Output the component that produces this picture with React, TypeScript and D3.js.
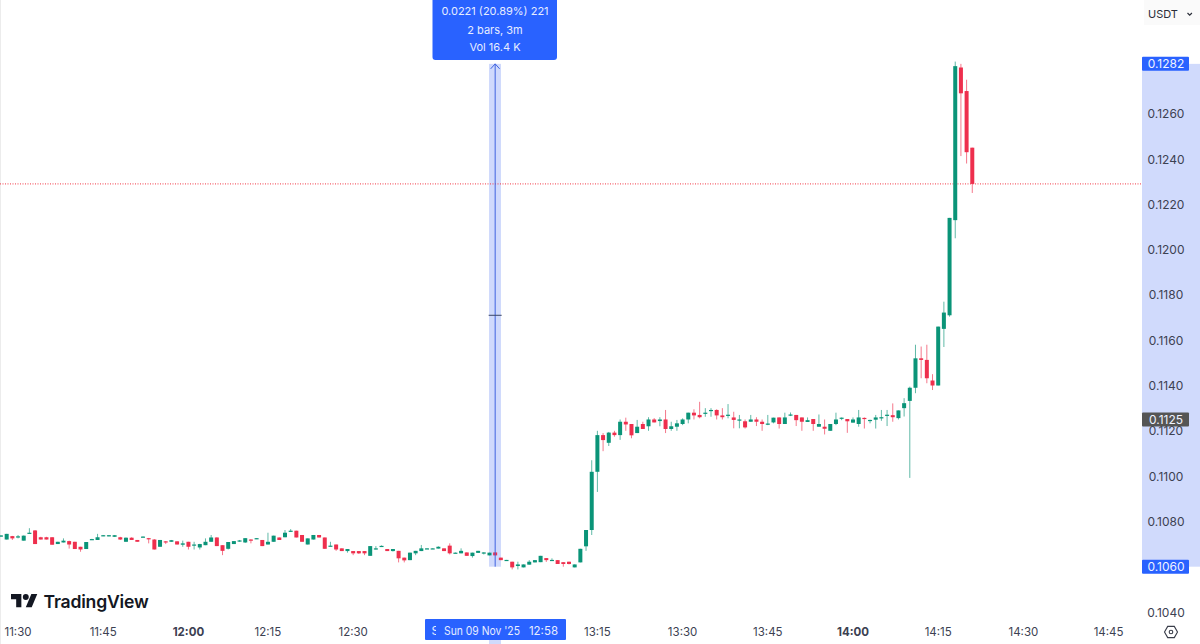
import React from "react";
import * as d3 from "d3";

type Row = [number, number, number, number];
// open, high, low, close, in units of 0.0001 USDT
const flatSession: Row[] = [
[1073.5,1073.9,1073.2,1073.8],[1072,1074.5,1072,1074.5],[1073.5,1073.6,1071.8,1072.5],[1073,1074,1072.5,1073.4],[1071.5,1073.8,1071.5,1073.7],
[1074.6,1077,1074.6,1075],[1076,1076.2,1070,1070],[1073,1073.2,1072,1072],[1073,1073.2,1072,1072],[1073,1073.1,1069.7,1069.7],
[1070,1071,1070,1071],[1070.7,1072.5,1070.7,1071.5],[1071.3,1071.5,1068,1069.8],[1071,1071,1067.8,1067.8],[1068.8,1068.8,1066.6,1067.6],
[1067.8,1070.9,1067.8,1070.9],[1072,1072.3,1071.9,1072.2],[1071.8,1074.5,1071.8,1073],[1073.6,1074,1073.5,1073.9],[1073.5,1074,1073.4,1073.9],
[1073.2,1074,1073.1,1073.9],[1073,1073.2,1071.8,1072],[1071,1072.9,1071,1072.8],[1072.8,1073,1071.8,1071.8],[1071.8,1071.8,1071,1071],
[1073.1,1073.4,1073,1073.3],[1072.6,1072.7,1070.3,1072.3],[1072,1072.2,1067.6,1067.6],[1068.8,1071.8,1068.8,1071.8],[1071.2,1071.3,1070,1070.8],
[1071,1071.8,1071,1071.7],[1071.2,1071.2,1069.8,1069.8],[1069.7,1071.5,1068.8,1070.3],[1071,1071,1067.6,1068.8],[1069.4,1071,1067.6,1069.8],
[1068.5,1070.1,1067.6,1070],[1069.5,1072.5,1069.5,1071],[1071,1074,1071,1072.9],[1072.9,1073,1069.1,1069.1],[1069.5,1069.5,1065.1,1067],
[1067.9,1070.9,1067.6,1070.9],[1070,1071.3,1070,1071.3],[1071.3,1071.8,1071,1071.6],[1070.7,1072.6,1070.5,1072.6],[1072,1072.2,1070.3,1071.8],
[1072.2,1072.6,1072.2,1072.6],[1071.8,1071.8,1069.1,1069.1],[1069.8,1075,1069.8,1071],[1071,1073.7,1071,1073.7],[1072.9,1072.9,1071.8,1071.8],
[1073,1076.2,1073,1075],[1075.5,1076.6,1075.5,1075.9],[1075.9,1075.9,1072.9,1072.9],
];
const driftSession: Row[] = [
[1074,1074,1071,1071],[1069.8,1072.5,1069.8,1072.5],[1072,1074,1072,1074],[1074,1074,1072.9,1072.9],[1072.9,1072.9,1067.9,1067.9],
[1069.1,1071,1069,1069.3],[1069.8,1069.8,1067,1067.6],[1068.1,1068.1,1066.9,1066.9],[1066.9,1067.8,1066.2,1067.8],[1066.9,1066.9,1065.1,1065.9],
[1066.9,1066.9,1065.6,1065.9],[1066.9,1066.9,1065.1,1065.9],[1064.8,1069.1,1064.8,1069.1],[1068,1069.1,1067.6,1068.1],[1069,1069.4,1069,1069.2],
[1067.8,1067.8,1066.9,1066.9],[1066.9,1067.8,1066.7,1067.8],[1067,1067,1061.9,1063.7],[1064,1064,1061.9,1062.8],[1062.9,1066.2,1062.9,1066.2],
[1065.9,1067,1065.1,1067],[1066.9,1069.6,1066.9,1068.1],[1067.9,1068.2,1067.9,1068.1],[1067.9,1068.2,1067.9,1068.1],[1068,1069,1068,1068.8],
[1068.1,1068.1,1066.9,1066.9],[1069.3,1070.3,1065.4,1065.9],[1066,1066.3,1066,1066.2],[1065.9,1068.1,1065.9,1067],[1066.3,1066.3,1064.8,1064.8],
[1064.7,1066.2,1064,1066.2],[1066.1,1067,1066.1,1067],[1066.2,1066.4,1065.4,1066.3],[1065,1066.2,1065,1066.2],[1066.3,1066.3,1065,1065],
[1064,1064,1062.9,1062.9],[1062.8,1063,1062.8,1063],[1062.2,1062.2,1058.8,1059.7],[1060.3,1062.2,1058.8,1061],[1059.7,1061,1059.7,1061],
[1060.9,1062.9,1060.9,1062.2],[1061.9,1062.9,1061.9,1062.9],[1062,1064.8,1062,1064.8],[1063.8,1063.8,1062.1,1062.9],[1062.8,1063.7,1062.8,1063],
[1062.9,1062.9,1061.2,1061.2],[1062,1062,1060,1061.2],[1062.2,1062.2,1061,1061.2],[1059.7,1061,1059.7,1061],[1061.9,1067.9,1061.9,1067.9],
[1069,1076.2,1067,1076.2],[1076.2,1107,1074,1101.9],
];
const plateauSession: Row[] = [
[1101.9,1120,1093,1118.1],[1118.1,1119,1111,1115.9],[1114.7,1119.5,1113.3,1119.2],[1119.2,1120,1117.4,1118.1],[1118.1,1125,1116,1124],
[1124,1125.8,1120,1122.8],[1123,1123,1116.7,1118],[1119,1124.8,1119,1121.8],[1123,1124,1120.8,1120.8],[1122,1126,1120,1125],
[1125,1125.6,1123.7,1123.7],[1124.3,1126,1122,1125],[1125,1129.2,1119,1120.8],[1120.8,1124,1120,1122],[1121.8,1124.8,1120,1123.3],
[1123,1125.5,1122.5,1125],[1125,1128,1123.3,1128],[1128,1129.5,1125,1126.8],[1127,1132.8,1125.5,1126],[1127.8,1130,1126.2,1128],
[1129,1130,1126.2,1129.2],[1129.2,1129.5,1125,1126.8],[1126.8,1130,1125,1126],[1126.9,1131.8,1125.5,1127.1],[1125.9,1128.4,1121.1,1124.8],
[1124.7,1127,1121.1,1125],[1124.2,1125,1121,1121.5],[1124,1127,1124,1125],[1125,1126,1122.1,1124],[1124,1125,1120,1123],
[1123,1127,1122.5,1123.2],[1123.7,1125.8,1123.3,1125.8],[1125.9,1125.9,1121,1123],[1123,1128,1123,1125.9],[1127.1,1128.1,1126.5,1127.2],
[1127,1127,1122.1,1124.7],[1125.9,1125.9,1120,1124],[1123.9,1125.9,1123.9,1124.7],[1125.2,1125.2,1120,1123],[1121.8,1127.2,1121.8,1123],
[1121.8,1125,1118.4,1120.9],[1120,1123,1120,1123],[1123,1128,1122.5,1125],[1125.6,1125.9,1124.7,1125.8],[1125.2,1125.2,1119.1,1124.2],
[1123.6,1125.9,1123.6,1125],[1123,1129.2,1121.8,1125.9],[1125.7,1125.9,1121,1125.4],[1124.5,1124.9,1123.3,1124.8],[1124.9,1127,1121,1125.9],
[1125.8,1129.2,1124.4,1126],[1126.9,1129.2,1122.1,1127.1],[1126.9,1132.1,1124,1126],[1125.6,1129,1125,1129],
];
const spikeSession: Row[] = [
[1130,1134.4,1126.3,1132.2],[1133.2,1139.5,1099.2,1139],[1139,1158,1136.6,1152],[1152,1157.2,1143.2,1151.3],[1151.3,1158,1141,1143.2],
[1142.2,1145,1138,1140],[1140,1166,1140,1166],[1165,1177,1157,1172.2],[1171,1214,1170.4,1214],[1213,1283,1205,1281],
[1280.4,1282,1241.3,1269],[1270,1275,1238,1243],[1245,1245,1225,1229],
];
const candles: Row[] = [...flatSession, ...driftSession, ...plateauSession, ...spikeSession];

const timeTicks: [number, string, boolean][] = [
  [3, "11:30", false], [18, "11:45", false], [33, "12:00", true], [47, "12:15", false], [62, "12:30", false],
  [105, "13:15", false], [120, "13:30", false], [135, "13:45", false], [150, "14:00", true], [165, "14:15", false],
  [180, "14:30", false], [195, "14:45", false],
];
const priceTicks = [1040, 1080, 1100, 1120, 1140, 1160, 1180, 1200, 1220, 1240, 1260];
const lastPrice = 1229;
const crosshairBar = 87;
const rulerFrom = 1060;
const rulerTo = 1282;
const hoverPrice = 1125;
const tooltipLines = ["0.0221 (20.89%) 221", "2 bars, 3m", "Vol 16.4 K"];

const FONT = "Inter, 'Liberation Sans', sans-serif";
const GREEN = "#0a9478";
const RED = "#ee2f4d";
const BLUE = "#2962ff";
const BAND = "#d0dafc";
const TEXT = "#3c4152";

const x = d3.scaleLinear().domain([0, 195]).range([1, 1108.6]);
const y = d3.scaleLinear().domain([1040, 1260]).range([612, 113.7]);
const fmt = (t: number) => (t / 10000).toFixed(4);

export default function App() {
  const cx = x(crosshairBar);
  const yTop = y(rulerTo);
  const yBot = y(rulerFrom);
  const yMid = (yTop + yBot) / 2;
  return (
    <svg width={1200} height={644} style={{ position: "fixed", left: 0, top: 0, background: "#fff" }} fontFamily={FONT}>
      <rect x={0} y={0} width={1} height={644} fill="#ececec" />
      {/* ruler band */}
      <rect x={489} y={yTop} width={12} height={yBot - yTop} fill={BAND} />
      <rect x={1142} y={yTop} width={58} height={yBot - yTop} fill={BAND} />
      <rect x={489} y={619} width={12} height={25} fill={BAND} />

      {/* last price line */}
      <line x1={0} x2={1142} y1={y(lastPrice)} y2={y(lastPrice)} stroke="#f23645" strokeWidth={1} strokeDasharray="1 1.5" />

      {/* candles */}
      {candles.map(([o, h, l, c], i) => {
        const col = c >= o ? GREEN : RED;
        const top = y(Math.max(o, c));
        const bot = y(Math.min(o, c));
        const px = x(i);
        return (
          <g key={i}>
            <line x1={px} x2={px} y1={y(h)} y2={y(l)} stroke={col} strokeOpacity={0.65} strokeWidth={1} />
            <rect x={px - 2} y={top} width={4} height={Math.max(bot - top, 1.2)} fill={col} />
          </g>
        );
      })}

      {/* ruler line and arrow */}
      <line x1={cx} x2={cx} y1={yTop} y2={yBot} stroke="#3f63e0" strokeWidth={1} />
      <path d={`M${cx - 4.5} ${yTop + 5}L${cx} ${yTop}L${cx + 4.5} ${yTop + 5}`} fill="none" stroke="#3f63e0" strokeWidth={1} />
      <line x1={cx - 6.5} x2={cx + 6.5} y1={yMid} y2={yMid} stroke="#3a4668" strokeWidth={1} />

      {/* tooltip */}
      <rect x={432.5} y={-6} width={124.5} height={66} rx={3} fill={BLUE} />
      {tooltipLines.map((t, i) => (
        <text key={t} x={495} y={[11, 30, 47][i]} fontSize={11} fill="#e6ecff" textAnchor="middle" dominantBaseline="central">{t}</text>
      ))}

      {/* logo */}
      <g transform="translate(11,591) scale(0.74)" fill="#131722">
        <path d="M14 22H7V11H0V4h14v18zM28 22h-8l7.5-18h8L28 22z" />
        <circle cx={20} cy={8} r={4} />
      </g>
      <text x={43.5} y={607.5} fontSize={17.6} fontWeight={600} fill="#131722" letterSpacing={-0.2}>TradingView</text>

      {/* time axis */}
      {timeTicks.map(([b, t, bold]) => (
        <text key={t} x={x(b)} y={632} fontSize={11.5} fontWeight={bold ? 700 : 400} fill={TEXT} textAnchor="middle" dominantBaseline="central">{t}</text>
      ))}
      <rect x={425} y={619} width={141} height={21} rx={1} fill={BLUE} />
      <clipPath id="date-clip"><rect x={431} y={619} width={5} height={21} /></clipPath>
      <text x={431.5} y={631} fontSize={11.5} fill="#e6ecff" dominantBaseline="central" clipPath="url(#date-clip)">S</text>
      <text x={444} y={631} fontSize={11.5} fill="#e6ecff" dominantBaseline="central" textLength={76} lengthAdjust="spacingAndGlyphs">Sun 09 Nov '25</text>
      <text x={558} y={631} fontSize={11.5} fill="#e6ecff" textAnchor="end" dominantBaseline="central">12:58</text>

      {/* price axis */}
      {priceTicks.map((t) => (
        <text key={t} x={1166} y={y(t)} fontSize={12} fill={TEXT} textAnchor="middle" dominantBaseline="central">{fmt(t)}</text>
      ))}
      {[[rulerTo, BLUE], [rulerFrom, BLUE], [hoverPrice, "#555555"]].map(([t, col]) => (
        <g key={String(t)}>
          <rect x={1142} y={y(t as number) - 7} width={47} height={14} rx={1} fill={col as string} />
          <text x={1166} y={y(t as number)} fontSize={12} fill="#f0f3ff" textAnchor="middle" dominantBaseline="central">{fmt(t as number)}</text>
        </g>
      ))}

      {/* currency button */}
      <rect x={1144} y={0} width={56} height={25} fill="#fafafa" />
      <text x={1148} y={14} fontSize={11} fill="#2a2e39" dominantBaseline="central">USDT</text>
      <path d="M1187.5 13l2.2 2.2 2.2-2.2" fill="none" stroke="#2a2e39" strokeWidth={1.2} />

      {/* settings icon */}
      <path d="M1164.5 632L1167.7 626.4H1174.3L1177.5 632L1174.3 637.6H1167.7Z" fill="none" stroke="#3a3e4a" strokeWidth={1.1} />
      <circle cx={1171} cy={632} r={1.8} fill="none" stroke="#3a3e4a" strokeWidth={1.1} />
    </svg>
  );
}
